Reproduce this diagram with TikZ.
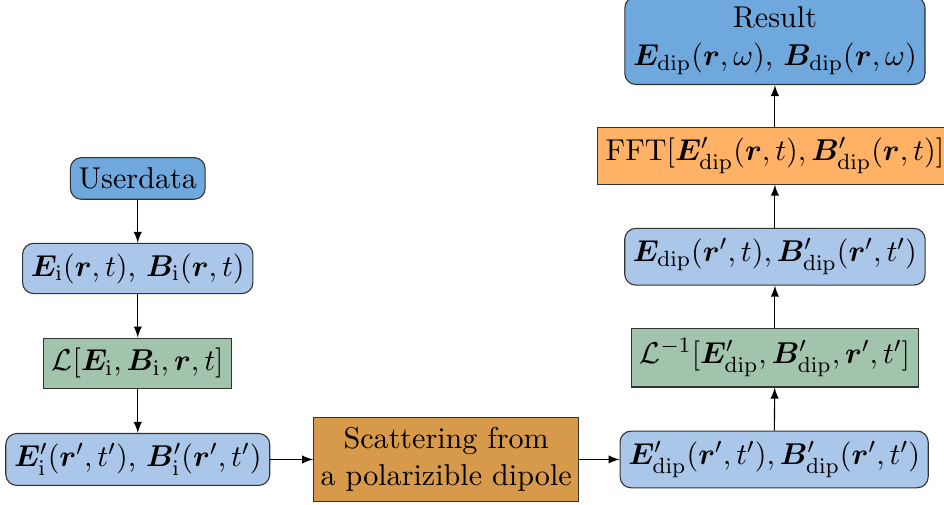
\documentclass[11pt,tikz,border=0pt]{standalone}
\usepackage{amsmath,amssymb,bm}
\usepackage{tikz}
\definecolor{userblue}{RGB}{111,168,220}
\definecolor{fieldblue}{RGB}{170,199,234}
\definecolor{opgreen}{RGB}{162,196,172}
\definecolor{scatbrown}{RGB}{214,154,74}
\definecolor{fftorange}{RGB}{255,178,102}

\tikzset{
  field/.style={draw=black!80,fill=fieldblue,rounded corners=4pt,minimum height=18pt,inner xsep=3pt},
  endpoint/.style={draw=black!80,fill=userblue,rounded corners=4pt,inner xsep=3pt},
  transform/.style={draw=black!80,fill=opgreen,minimum height=18pt,inner xsep=3pt},
  flow/.style={-latex,thin}
}

\begin{document}
\begin{tikzpicture}
\useasboundingbox (0,0) rectangle (12.06,6.44);
% left column
\node[endpoint,minimum height=14.5pt] (user) at (1.76,4.16) {Userdata};
\node[field] (Ei) at (1.76,3.01) {$\bm{E}_\mathrm{i}(\bm{r},t)$, $\bm{B}_\mathrm{i}(\bm{r},t)$};
\node[transform] (L) at (1.76,1.80) {$\mathcal{L}[\bm{E}_\mathrm{i},\bm{B}_\mathrm{i},\bm{r},t]$};
\node[field] (Eip) at (1.76,0.57) {$\bm{E}'_\mathrm{i}(\bm{r}',t')$, $\bm{B}'_\mathrm{i}(\bm{r}',t')$};
% scattering
\node[draw=black!80,fill=scatbrown,align=center,minimum height=29.5pt,inner xsep=2.5pt] (scat) at (5.70,0.57) {Scattering from\\a polarizible dipole};
% right column
\node[field,minimum height=20pt] (Edipp) at (9.89,0.57) {$\bm{E}'_\mathrm{dip}(\bm{r}',t'),\bm{B}'_\mathrm{dip}(\bm{r}',t')$};
\node[transform,minimum height=20pt] (Linv) at (9.90,1.87) {$\mathcal{L}^{-1}[\bm{E}'_\mathrm{dip},\bm{B}'_\mathrm{dip},\bm{r}',t']$};
\node[field,minimum height=20pt] (Edip) at (9.90,3.16) {$\bm{E}_\mathrm{dip}(\bm{r}',t),\bm{B}'_\mathrm{dip}(\bm{r}',t')$};
\node[draw=black!80,fill=fftorange,minimum height=20pt,inner xsep=3pt] (fft) at (9.90,4.45) {$\mathrm{FFT}[\bm{E}'_\mathrm{dip}(\bm{r},t),\bm{B}'_\mathrm{dip}(\bm{r},t)]$};
\node[endpoint,align=center,minimum height=30pt] (result) at (9.90,5.92) {Result\\$\bm{E}_\mathrm{dip}(\bm{r},\omega)$, $\bm{B}_\mathrm{dip}(\bm{r},\omega)$};
% connectors
\draw[flow] (user) -- (Ei);
\draw[flow] (Ei) -- (L);
\draw[flow] (L) -- (Eip);
\draw[flow] (Eip) -- (scat);
\draw[flow] (scat) -- (Edipp);
\draw[flow] (Edipp) -- (Linv);
\draw[flow] (Linv) -- (Edip);
\draw[flow] (Edip) -- (fft);
\draw[flow] (fft) -- (result);
\end{tikzpicture}
\end{document}
